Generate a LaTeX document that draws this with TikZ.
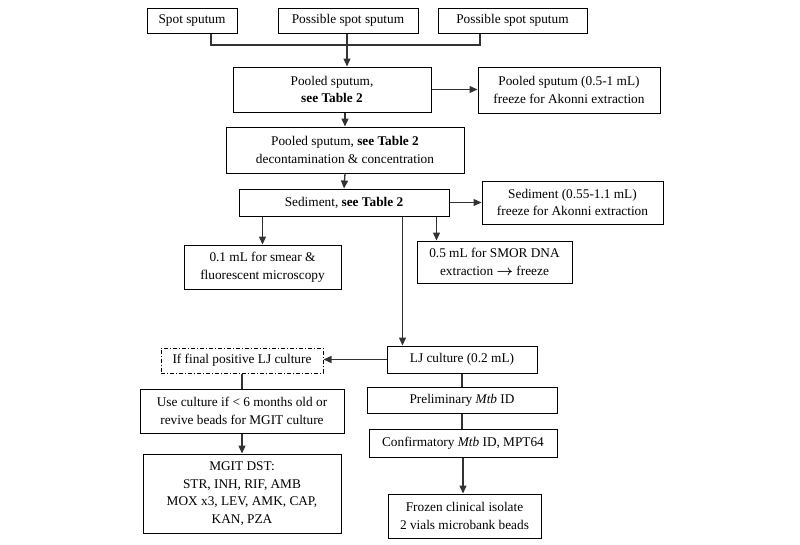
\documentclass[tikz,border=0pt]{standalone}
\usepackage{fontspec}
\setmainfont{Liberation Serif}
\usepackage{bm}
\usepackage{xcolor}
\usepackage{tikz}
\usetikzlibrary{arrows.meta, calc}
\definecolor{lineGray}{rgb}{0.2, 0.2, 0.2}

\tikzset{
  box/.style = {draw=black, line width=1pt, rectangle, align=center, inner sep=1pt,
                font=\fontsize{13.3}{17.5}\selectfont},
  dashbox/.style = {box, dash pattern=on 4pt off 2pt on 1pt off 2pt},
  link/.style = {draw=lineGray, line width=1.3pt},
  arr/.style = {link, -{Triangle[length=8pt, width=7pt]}}
}

\begin{document}
\begin{tikzpicture}[x=1pt, y=-1pt, style={line cap = butt}]
  \useasboundingbox (0, 0) rectangle (800, 544);
  % top row
  \node[box, minimum width=90, minimum height=25] (spot) at (192, 20.5) {Spot sputum};
  \node[box, minimum width=140, minimum height=25] (poss1) at (348, 20.5) {Possible spot sputum};
  \node[box, minimum width=149, minimum height=25] (poss2) at (512.5, 20.5) {Possible spot sputum};
  \coordinate (join) at (347, 45);

  \node[box, minimum width=198, minimum height=45] (pooled) at (332, 89.5) {Pooled sputum,\\ \textbf{see Table 2}};
  \node[box, minimum width=182, minimum height=46] (pooledFrz) at (569, 90) {Pooled sputum (0.5-1 mL)\\freeze for Akonni extraction};
  \node[box, minimum width=238, minimum height=46] (decon) at (345, 150) {Pooled sputum, \textbf{see Table 2}\\decontamination \& concentration};
  \node[box, minimum width=210, minimum height=27] (sed) at (344, 202.5) {Sediment, \textbf{see Table 2}};
  \node[box, minimum width=181, minimum height=43] (sedFrz) at (572.5, 202.5) {Sediment (0.55-1.1 mL)\\freeze for Akonni extraction};
  \node[box, minimum width=157, minimum height=44] (smear) at (262.5, 267) {0.1 mL for smear \&\\fluorescent microscopy};
  \node[box, minimum width=155, minimum height=42] (smor) at (494.5, 262) {0.5 mL for SMOR DNA\\extraction $\bm{\rightarrow}$ freeze};

  % culture branch
  \node[box, minimum width=150, minimum height=27] (lj) at (462, 359.5) {LJ culture (0.2 mL)};
  \node[dashbox, minimum width=162, minimum height=25] (ifPos) at (242, 360.5) {If final positive LJ culture};
  \node[box, minimum width=204, minimum height=44] (useCult) at (242, 411) {Use culture if < 6 months old or\\revive beads for MGIT culture};
  \node[box, minimum width=198, minimum height=79] (mgit) at (242, 493.5) {MGIT DST:\\STR, INH, RIF, AMB\\MOX x3, LEV, AMK, CAP,\\KAN, PZA};
  \node[box, minimum width=190, minimum height=26] (prelim) at (462, 400) {Preliminary \emph{Mtb} ID};
  \node[box, minimum width=188, minimum height=28] (confirm) at (463, 443) {Confirmatory \emph{Mtb} ID, MPT64};
  \node[box, minimum width=153, minimum height=44] (frozen) at (464.5, 516) {Frozen clinical isolate\\2 vials microbank beads};

  % connectors
  \draw[link] ([xshift=19]spot.south) |- (join) -| ([xshift=-32.5]poss2.south);
  \draw[arr] ([xshift=-1]poss1.south) -- ([xshift=-1]poss1.south |- pooled.north);
  \draw[arr] (pooled.east) -- (pooled.east -| pooledFrz.west);
  \draw[arr] (decon.north |- pooled.south) -- (decon.north);
  \draw[arr] (decon.south) -- (sed.north);
  \draw[arr] (sed.east) -- (sedFrz.west);
  \draw[arr] (smear.north |- sed.south) -- (smear.north);
  \draw[arr] ([xshift=20]smor.north west |- sed.south) -- ([xshift=20]smor.north west);
  \draw[arr] ([xshift=16]lj.north west |- sed.south) -- ([xshift=16]lj.north west);
  \draw[arr] (lj.west) -- (lj.west -| ifPos.east);
  \draw[link] (ifPos.south) -- (useCult.north);
  \draw[arr] (useCult.south) -- (mgit.north);
  \draw[link] (lj.south) -- (prelim.north);
  \draw[link] (prelim.south) -- (prelim.south |- confirm.north);
  \draw[arr] (confirm.south) -- (confirm.south |- frozen.north);
\end{tikzpicture}
\end{document}
